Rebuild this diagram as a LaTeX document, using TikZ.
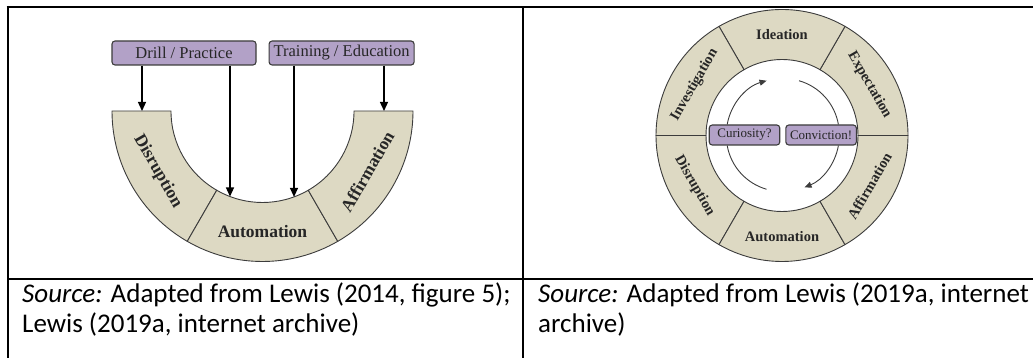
\documentclass[tikz,border=0pt]{standalone}
\usepackage{fontspec}
\setmainfont{Carlito}
\newfontfamily\labelfont{Liberation Serif}
\usetikzlibrary{positioning, arrows.meta}

\definecolor{bandfill}{HTML}{DDD9C3}
\definecolor{chipfill}{HTML}{B2A1C7}
\definecolor{inkgray}{HTML}{3C3C3C}

\begin{document}
\begin{tikzpicture}[x=1pt, y=1pt,
  gridline/.style={line width=2pt},
  srctext/.style={anchor=base west, inner sep=0pt, font=\fontsize{27}{30}\selectfont},
  band/.style={fill=bandfill, draw=inkgray, line width=0.9pt},
  chip/.style={draw=inkgray, fill=chipfill, rounded corners=3pt, line width=1.1pt, inner sep=0pt, text=black!85},
  bigchip/.style={chip, minimum width=144pt, minimum height=24pt, font=\labelfont\fontsize{16.5}{18}\selectfont},
  smallchip/.style={chip, minimum width=70.5pt, minimum height=20pt, font=\labelfont\fontsize{13}{14}\selectfont},
  bandtxt/.style={inner sep=0pt, text=black!85, font=\labelfont\bfseries\fontsize{#1}{#1}\selectfont},
  arr/.style={line width=1.3pt, -{Triangle[length=9pt, width=8pt]}},
  cyc/.style={inkgray, line width=0.9pt},
  cycarr/.style={cyc, -{Triangle[length=7pt, width=6pt]}}]
\useasboundingbox (0,0) rectangle (1033,358);

% table rules
\draw[gridline] (6.5,351) -- (1033,351);
\draw[gridline] (7.5,352) -- (7.5,0);
\draw[gridline] (523,351) -- (523,0);
\draw[gridline] (7.5,79) -- (1033,79);

% sources
\node[srctext] (srcA) at (22,55) {\textit{Source:} Adapted from Lewis (2014, figure 5);};
\node[srctext] (srcAb) at (22,25) {Lewis (2019a, internet archive)};
\node[srctext] (srcB) at (538,55) {\textit{Source:} Adapted from Lewis (2019a, internet};
\node[srctext] (srcBb) at (538,25) {archive)};

% half ring
\begin{scope}[shift={(262.5,247)}]
  \foreach \a in {180,240,300}
    \draw[band] (\a:150.5) arc[start angle=\a, delta angle=60, radius=150.5]
      -- (\a+60:91.5) arc[start angle=\a+60, delta angle=-60, radius=91.5] -- cycle;
  \foreach \a/\t in {210/Disruption, 270/Automation, 330/Affirmation}
    \node[bandtxt=17.5, rotate=\a+90] (half\a) at (\a:121) {\t};
\end{scope}

\node[bigchip] (drill) at (184,305) {Drill / Practice};
\node[bigchip, right=12pt of drill, minimum width=145pt] (train) {Training / Education};

\coordinate (dA) at (142,247);
\coordinate (dB) at (230,161.5);
\coordinate (tA) at (294,161.1);
\coordinate (tB) at (384,247);
\draw[arr] (drill.south -| dA) -- (dA);
\draw[arr] (drill.south -| dB) -- (dB);
\draw[arr] (train.south -| tA) -- (tA);
\draw[arr] (train.south -| tB) -- (tB);

% full ring
\begin{scope}[shift={(782,222.5)}]
  \foreach \a in {0,60,...,300}
    \draw[band] (\a:126) arc[start angle=\a, delta angle=60, radius=126]
      -- (\a+60:76) arc[start angle=\a+60, delta angle=-60, radius=76] -- cycle;
  \foreach \a/\r/\t in {90/0/Ideation, 30/-60/Expectation, 150/60/Investigation,
                        210/-60/Disruption, 270/0/Automation, 330/60/Affirmation}
    \node[bandtxt=14.5, rotate=\r] (ring\a) at (\a:101) {\t};
\end{scope}

\node[smallchip] (cur) at (744.5,223) {Curiosity?};
\node[smallchip, right=5pt of cur] (conv) {Conviction!};

\draw[cycarr] ([xshift=18.5pt]cur.north west) arc[start angle=170, end angle=106, radius=55.5];
\draw[cyc] ([xshift=-18.5pt]conv.north east) arc[start angle=10, end angle=74, radius=55.5];
\draw[cycarr] ([xshift=-18.5pt]conv.south east) arc[start angle=-10, end angle=-68, radius=55.5];
\draw[cyc] ([xshift=18.5pt]cur.south west) arc[start angle=190, end angle=254, radius=55.5];
\end{tikzpicture}
\end{document}
